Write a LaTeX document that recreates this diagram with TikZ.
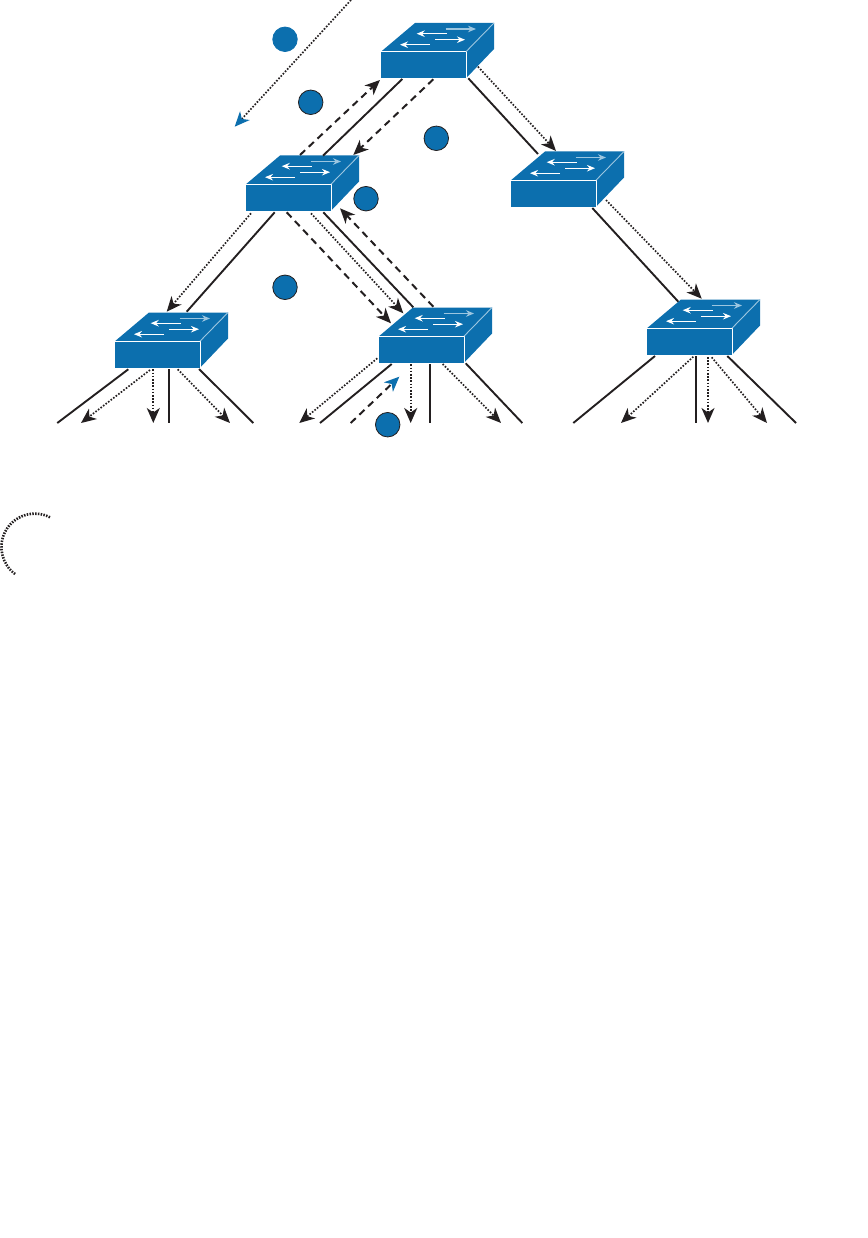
\documentclass[tikz,border=0pt]{standalone}
\usepackage{xcolor}
\usetikzlibrary{arrows.meta, calc}

\definecolor{switchblue}{HTML}{0C6FAE}
\definecolor{edgeblue}{HTML}{9CC6E0}
\definecolor{wireblack}{HTML}{231F20}

\newcommand{\switchbox}[3]{
    \node[switchfront] (#1) at (#2, #3) {};
    \begin{scope}[shift={(#2, #3)}]
        \fill[switchblue] (-42.5, -13.3) -- (-8.5, -42) -- (70.5, -42) -- (42.5, -13.3) -- cycle;
        \fill[switchblue] (42.5, -13.3) -- (70.5, -42) -- (70.5, -16) -- (42.5, 13.3) -- cycle;
        \draw[edgeline] (-42.5, -13.3) -- (42.5, -13.3) -- (42.5, 13.3);
        \draw[edgeline, edgeblue] (42.5, -13.3) -- (70.5, -42);
        \draw[flowarrow, edgeblue] (22.2, -36) -- (52.5, -36);
        \draw[flowarrow] (23.2, -31.3) -- (-6.8, -31.3);
        \draw[flowarrow] (11.5, -25.3) -- (41.5, -25.3);
        \draw[flowarrow] (6.5, -20.3) -- (-23.5, -20.3);
    \end{scope}
}

\begin{document}
\begin{tikzpicture}[
    x=1pt, y=-1pt,
    switchfront/.style={fill=switchblue, minimum width=85pt, minimum height=26.6pt, inner sep=0pt},
    edgeline/.style={white, line width=0.9pt},
    flowarrow/.style={white, line width=1.3pt, -{Stealth[length=8pt, width=6.5pt]}},
    hop/.style={circle, fill=switchblue, draw=wireblack, line width=0.8pt, minimum size=24.5pt, inner sep=0pt},
    wire/.style={wireblack, line width=1.9pt},
    tip/.style={-{Stealth[length=15pt, width=13pt, inset=4.5pt]}},
    bluetip/.style={-{Stealth[length=15pt, width=13pt, inset=4.5pt, color=switchblue]}},
    dashwire/.style={wireblack, line width=2pt, dash pattern=on 7pt off 5pt},
    dotwire/.style={wireblack, line width=1.7pt, dash pattern=on 1.6pt off 1.6pt}
]
    \useasboundingbox (0, 0) rectangle (867, 1238);

    \switchbox{s1}{423.5}{65}
    \switchbox{s2}{288.5}{197.5}
    \switchbox{s3}{553.5}{193.5}
    \switchbox{s4}{157.5}{354.5}
    \switchbox{s5}{421.5}{349.5}
    \switchbox{s6}{689.5}{341.5}

    \foreach \name/\x in {a1/57.3, a2/81, a3/153.3, a4/169, a5/230, a6/253.3,
                          b1/299.3, b2/320, b3/350.7, b4/410.7, b5/430, b6/501, b7/522.3,
                          c1/573.3, c2/621, c3/696, c4/708, c5/767, c6/796}
        \coordinate (\name) at (\x, 423);
    \coordinate (in) at (351, 0);
    \coordinate (out) at (234.7, 126.7);

    \node[hop, draw=switchblue] (n1) at (285, 39.3) {};
    \node[hop] (n2) at (310.7, 102.3) {};
    \node[hop] (n3) at (436.3, 138.3) {};
    \node[hop] (n4) at (366, 198.7) {};
    \node[hop] (n5) at (285, 287.3) {};
    \node[hop] (n6) at (387.7, 424.7) {};

    \draw[dotwire, bluetip] (in) -- (out);

    \draw[dashwire, tip] ([shift={(11.5, -42.5)}]s2.center) -- ([shift={(-43.5, 15)}]s1.center);
    \draw[wire] ([shift={(34.5, -41.8)}]s2.center) -- ([shift={(-21.2, 14)}]s1.center);
    \draw[dashwire, tip] ([shift={(9.8, 14.3)}]s1.center) -- ([shift={(64.8, -42.5)}]s2.center);

    \draw[wire] ([shift={(44.8, 13.3)}]s1.center) -- ([shift={(-15.5, -39.5)}]s3.center);
    \draw[dotwire, tip] ([shift={(54.5, 1.7)}]s1.center) -- ([shift={(2.5, -42.5)}]s3.center);

    \draw[wire] ([shift={(38.8, 14.5)}]s3.center) -- ([shift={(-11.2, -39.8)}]s6.center);
    \draw[dotwire, tip] ([shift={(52.5, 6.5)}]s3.center) -- ([shift={(12.2, -42.8)}]s6.center);

    \draw[wire] ([shift={(-13.8, 14.8)}]s2.center) -- ([shift={(29.2, -42.8)}]s4.center);
    \draw[dotwire, tip] ([shift={(-37.5, 15.8)}]s2.center) -- ([shift={(9.2, -42.8)}]s4.center);

    \draw[dashwire, tip] ([shift={(-1.8, 14.8)}]s2.center) -- ([shift={(-30.5, -26.2)}]s5.center);
    \draw[dotwire, tip] ([shift={(22.5, 15.8)}]s2.center) -- ([shift={(-18.2, -36.2)}]s5.center);
    \draw[wire] ([shift={(34.8, 14.8)}]s2.center) -- ([shift={(-8.2, -42.2)}]s5.center);
    \draw[dashwire, tip] ([shift={(11.8, -42.8)}]s5.center) -- ([shift={(51.5, 10.8)}]s2.center);

    \draw[wire] ([shift={(-29.2, 14.8)}]s4.center) -- (a1);
    \draw[dotwire, tip] ([shift={(-7.5, 15.5)}]s4.center) -- (a2);
    \draw[dotwire, tip] ([shift={(-4.2, 14.8)}]s4.center) -- (a3);
    \draw[wire] ([shift={(11.5, 14.5)}]s4.center) -- (a4);
    \draw[dotwire, tip] ([shift={(20.2, 14.8)}]s4.center) -- (a5);
    \draw[wire] ([shift={(41.5, 14.5)}]s4.center) -- (a6);

    \draw[dotwire, tip] ([shift={(-44.2, 8.8)}]s5.center) -- (b1);
    \draw[wire] ([shift={(-29.8, 14.5)}]s5.center) -- (b2);
    \draw[dashwire, bluetip] (b3) -- ([shift={(-22.2, 27.2)}]s5.center);
    \draw[dotwire, tip] ([shift={(-10.8, 14.8)}]s5.center) -- (b4);
    \draw[wire] ([shift={(8.5, 14.5)}]s5.center) -- (b5);
    \draw[dotwire, tip] ([shift={(21.2, 14.5)}]s5.center) -- (b6);
    \draw[wire] ([shift={(44.2, 13.8)}]s5.center) -- (b7);

    \draw[wire] ([shift={(-34.5, 14.5)}]s6.center) -- (c1);
    \draw[dotwire, tip] ([shift={(3.8, 15.2)}]s6.center) -- (c2);
    \draw[wire] ([shift={(6.5, 14.5)}]s6.center) -- (c3);
    \draw[dotwire, tip] ([shift={(18.5, 15.5)}]s6.center) -- (c4);
    \draw[dotwire, tip] ([shift={(22.2, 15.8)}]s6.center) -- (c5);
    \draw[wire] ([shift={(37.8, 14.5)}]s6.center) -- (c6);

    \draw[wireblack, line width=2.6pt, dash pattern=on 1.5pt off 1.3pt] (50, 517.3) arc[start angle=63, end angle=234, radius=33.4pt];
\end{tikzpicture}
\end{document}
